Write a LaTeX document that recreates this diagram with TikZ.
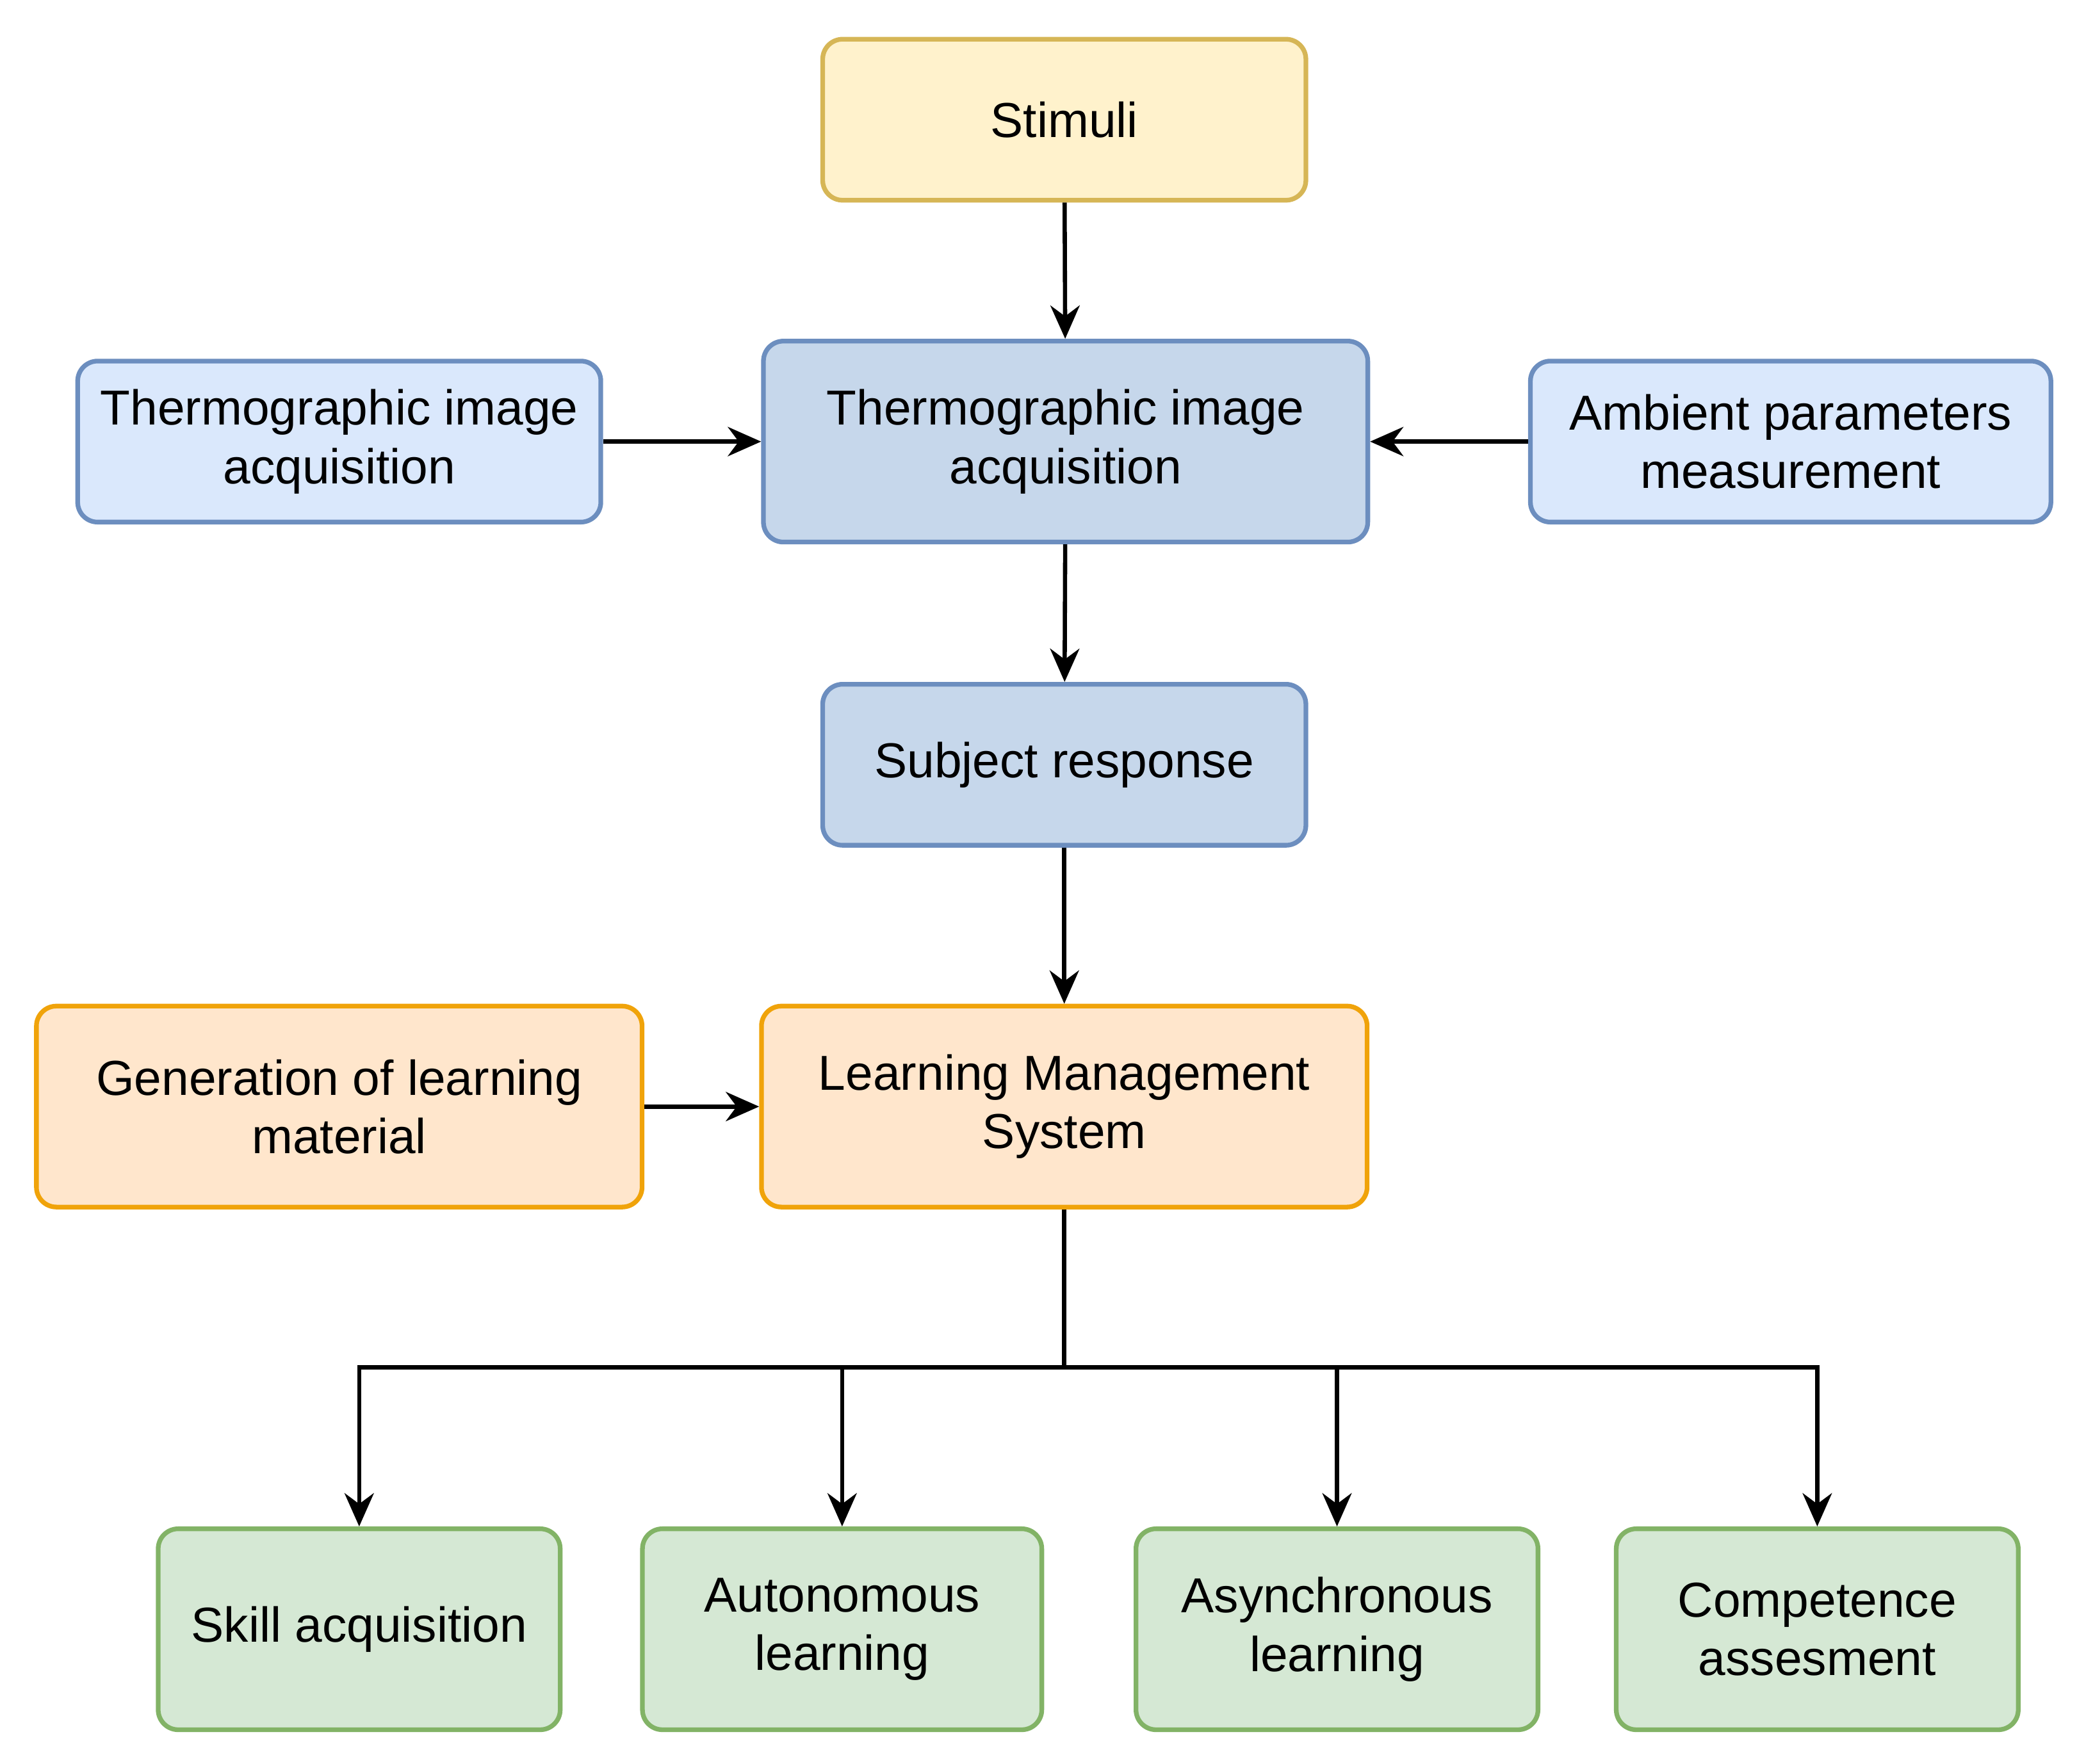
\documentclass[tikz,border=0pt]{standalone}
\usepackage{fontspec}
\setmainfont{Liberation Sans}
\usetikzlibrary{arrows.meta}
\definecolor{yelF}{HTML}{FFF2CC}\definecolor{yelD}{HTML}{D6B656}
\definecolor{bluF}{HTML}{DAE8FC}\definecolor{bluD}{HTML}{6C8EBF}
\definecolor{blkF}{HTML}{C6D7EB}
\definecolor{oraF}{HTML}{FFE6CC}\definecolor{oraD}{HTML}{F0A30A}
\definecolor{grnF}{HTML}{D5E8D4}\definecolor{grnD}{HTML}{82B366}
\begin{document}
\begin{tikzpicture}[x=0.01cm, y=-0.01cm,
    every node/.style={font=\fontsize{10.5}{12.5}\selectfont, align=center},
    caja/.style={draw, line width=1pt, rounded corners=0.15cm, inner sep=0pt},
    amarilla/.style={caja, fill=yelF, draw=yelD, minimum width=3.63cm, minimum height=1.21cm},
    azul/.style={caja, fill=bluF, draw=bluD, minimum width=3.93cm, minimum height=1.21cm},
    naranja/.style={caja, fill=oraF, draw=oraD, minimum width=4.55cm, minimum height=1.51cm},
    verde/.style={caja, fill=grnF, draw=grnD, minimum width=3.02cm, minimum height=1.51cm},
    flecha/.style={-{Stealth[length=0.25cm, width=0.22cm]}, line width=0.9pt}
]
\useasboundingbox (0,0) rectangle (1568,1326);
% Cajas superiores
\node[amarilla] (stimuli) at (800,90) {Stimuli};
\node[azul, fill=blkF, minimum width=4.54cm, minimum height=1.51cm] (thermo) at (801,332) {Thermographic image\\acquisition};
\node[azul] (thermoIzq) at (255,332) {Thermographic image\\acquisition};
\node[azul, minimum width=3.91cm] (ambient) at (1346,332) {Ambient parameters\\measurement};
\node[amarilla, fill=blkF, draw=bluD] (subject) at (800,575) {Subject response};
% LMS
\node[naranja] (lms) at (800,832) {Learning Management\\System};
\node[naranja] (generation) at (255,832) {Generation of learning\\material};
% Resultados
\node[verde] (skill) at (270,1225) {Skill acquisition};
\node[verde, minimum width=3.00cm] (autonomous) at (633,1225) {Autonomous\\learning};
\node[verde] (asynchronous) at (1005,1225) {Asynchronous\\learning};
\node[verde] (competence) at (1366,1225) {Competence\\assesment};
% Aristas
\draw[flecha] (stimuli) -- (thermo);
\draw[flecha] (thermoIzq) -- (thermo);
\draw[flecha] (ambient) -- (thermo);
\draw[flecha] (thermo) -- (subject);
\draw[flecha] (subject) -- (lms);
\draw[flecha] (generation) -- (lms);
\coordinate (bus) at (800,1028);
\draw[line width=0.9pt] (lms) -- (bus);
\foreach \n in {skill, autonomous, asynchronous, competence}
  \draw[flecha] (bus) -| (\n.north);
\end{tikzpicture}
\end{document}
